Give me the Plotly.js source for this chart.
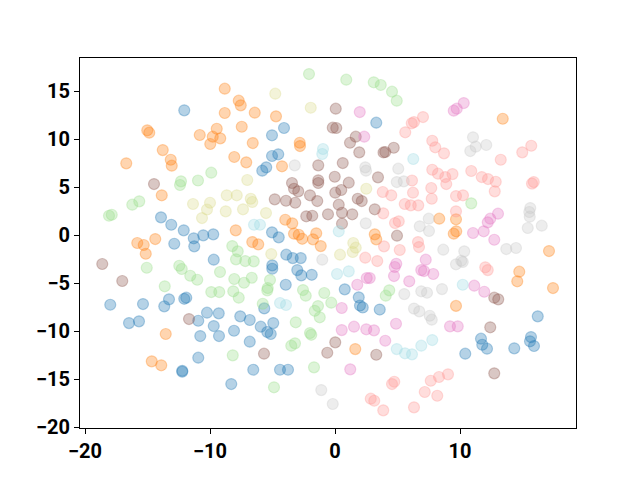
<!DOCTYPE html>
<html>
<head>
<meta charset="utf-8">
<script src="https://cdn.plot.ly/plotly-3.0.1.min.js"></script>
<style>html,body{margin:0;padding:0;background:#fff;}#chart{width:640px;height:480px;}</style>
</head>
<body>
<div id="chart"></div>
<script>
// Class 0 (blue)
const blueX = [-12.06,-4.08,-5.04,-5.04,-4.54,-5.50,-5.82,3.30,-13.92,-13.10,-12.10,-11.30,-11.26,-10.54,-12.86,-17.98,-15.36,-13.28,-12.06,-11.90,-13.66,-16.48,-15.68,-10.94,-10.78,-10.24,-10.94,-12.22,-12.22,-5.04,-4.50,-9.74,-3.90,-3.38,-2.74,-9.70,-5.02,-5.02,-3.02,-2.70,-1.86,-3.94,-9.30,-7.58,-6.82,-5.66,-9.70,-8.08,-9.28,-5.94,-5.42,-5.14,-4.94,-6.82,-6.54,-4.40,-3.76,-8.30,0.78,1.90,2.00,2.22,3.58,16.22,11.68,11.78,12.16,14.34,15.68,15.60,15.92,10.42];
const blueY = [12.99,11.15,10.39,8.23,8.41,7.05,6.70,11.70,1.84,1.07,0.49,-0.34,-1.18,-0.03,-0.91,-7.26,-7.19,-6.70,-6.64,-6.53,-7.43,-9.17,-8.99,-8.93,-10.52,-8.09,-12.78,-14.14,-14.24,0.28,-0.24,0.07,-2.05,-2.40,-2.40,-2.57,-3.16,-3.51,-3.65,-4.20,-4.14,-5.18,-8.16,-8.47,-8.85,-7.64,-9.48,-9.97,-10.52,-9.55,-10.10,-10.31,-9.17,-11.11,-14.03,-14.03,-14.03,-15.52,-5.66,-6.49,-7.34,-7.55,-7.76,-8.47,-10.80,-11.43,-11.84,-11.80,-10.63,-11.07,-11.56,-12.36];

// Class 1 (orange)
const orangeX = [-15.02,-14.86,-10.82,-13.78,-16.70,-13.14,-13.06,-8.82,-7.70,-7.54,-8.82,-6.42,-4.72,-9.46,-7.46,-9.78,-9.18,-9.98,-6.58,-2.82,-2.80,-8.06,-7.10,-4.24,-13.86,-14.38,-15.82,-15.30,-15.14,-13.54,-14.66,-13.90,-3.98,-3.42,-7.94,-3.28,-2.90,-2.62,-1.50,-1.76,-1.14,-6.62,-6.14,13.42,8.34,9.50,9.70,3.18,3.30,9.68,17.12,14.74,14.58,17.44,9.68,1.62];
const orangeY = [10.91,10.66,10.42,8.85,7.47,7.84,7.22,15.24,13.99,13.51,12.71,12.74,12.36,11.07,11.28,10.24,10.07,9.48,9.58,9.61,9.27,8.13,7.57,7.16,4.14,-0.42,-0.83,-1.04,-1.95,-10.31,-13.16,-13.57,1.59,1.22,0.49,0.14,0.03,-0.39,0.18,-0.45,-1.15,-0.73,-0.97,12.11,1.70,0.14,0.39,0.07,-0.45,1.64,-1.67,-3.82,-4.82,-5.52,-7.38,-11.88];

// Class 2 (light green)
const greenX = [-12.32,-12.40,-10.96,-2.08,-9.90,-16.22,-15.66,-18.08,-17.86,-15.06,-12.46,-12.26,-11.58,-11.02,-13.62,0.90,3.10,3.66,4.56,4.94,-8.22,-7.78,-7.92,-7.18,-6.50,-9.20,-8.06,-7.28,-6.66,-5.20,-5.38,-5.42,-9.90,-9.26,-8.14,-7.70,-2.56,-2.34,-0.86,-5.78,-1.36,-1.62,-1.22,-3.14,-2.00,-1.90,-3.50,-3.20,-8.18,-1.68,-4.88,4.34,4.06,-0.30,10.90];
const greenY = [5.59,5.21,5.68,16.77,6.49,3.16,3.51,2.01,2.11,-3.41,-3.20,-3.54,-4.24,-4.66,-5.34,16.18,15.91,15.63,14.93,13.99,-1.15,-1.70,-2.53,-2.71,-2.74,-3.85,-4.58,-4.97,-4.45,-4.69,-5.52,-5.76,-5.94,-5.94,-5.86,-6.53,-5.73,-6.32,-6.04,-7.16,-7.40,-7.89,-8.57,-9.09,-10.21,-10.39,-11.53,-11.28,-12.53,-13.78,-15.86,-5.76,-6.32,-7.05,3.30];

// Class 3 (light red)
const redX = [7.04,6.14,6.32,5.62,7.78,8.02,8.72,7.78,8.24,8.82,9.40,6.16,8.90,15.70,14.98,13.26,10.90,11.74,12.24,12.86,15.90,15.76,3.82,4.50,6.24,7.70,7.74,5.58,6.06,6.66,3.86,4.80,5.10,3.92,5.18,6.64,6.72,2.42,3.38,9.68,10.24,12.78,9.68,12.02,12.22,4.56,4.74,7.66,8.32,9.04,7.18,8.18,2.86,3.14,3.86,6.32];
const redY = [12.29,11.64,11.77,10.70,9.82,9.14,8.51,6.80,6.39,6.04,6.35,5.68,5.31,9.30,8.61,7.84,6.67,6.04,5.83,5.55,5.52,5.36,4.48,4.14,4.41,4.90,3.78,3.23,3.09,3.09,2.26,1.25,1.43,-1.18,-1.56,-0.73,-1.25,-2.36,-2.71,4.06,4.14,4.55,2.47,-3.36,-3.65,-15.52,-15.28,-15.18,-14.79,-14.51,-16.35,-16.74,-17.05,-17.26,-18.26,-17.95];

// Class 4 (brown)
const brownX = [-14.48,-1.34,-3.44,-1.34,-1.34,-0.18,0.10,0.06,1.66,1.20,1.94,4.02,3.88,4.70,0.62,-0.02,3.44,1.10,-18.62,-17.02,-3.28,-2.94,-4.82,-3.92,-3.18,-2.00,-1.42,-2.30,-1.82,-0.56,-11.68,0.02,0.50,1.82,2.14,0.30,3.18,0.56,1.38,0.56,4.96,-5.68,-0.62,0.02,3.30,12.74,13.06,12.42,12.74];
const brownY = [5.31,7.26,5.42,5.70,5.42,11.18,11.15,13.16,10.24,9.61,8.61,8.65,8.60,9.09,7.50,6.07,6.01,5.45,-3.02,-4.79,4.82,4.55,3.72,3.57,3.36,4.14,3.54,1.95,2.01,2.16,-8.75,4.41,4.69,3.78,3.54,3.16,2.68,2.32,2.16,1.18,-0.07,-12.36,-12.26,-11.18,-12.47,-6.53,-6.70,-9.61,-14.41];

// Class 5 (pink)
const pinkX = [1.98,2.34,10.30,9.74,9.50,7.26,4.90,4.78,6.90,7.12,7.86,4.72,2.78,2.54,1.78,5.94,0.54,9.20,9.82,0.54,1.52,2.50,3.12,4.88,4.02,1.22,13.04,12.42,12.22,11.04,11.90,12.74,11.14,11.94];
const pinkY = [12.81,10.24,13.75,13.16,12.95,-2.57,-2.99,-3.33,-3.65,-3.75,-4.06,-4.27,-4.48,-4.48,-5.18,-4.82,-7.60,-9.51,-9.51,-9.90,-9.55,-9.82,-9.93,-9.24,-11.01,-13.99,2.22,1.70,1.32,0.21,0.39,-0.49,-5.28,-5.91];

// Class 6 (light gray)
const grayX = [-3.22,2.42,2.48,5.06,4.94,5.50,11.04,11.26,10.82,12.10,-1.02,-1.10,-0.18,7.50,2.46,6.78,7.52,8.66,5.54,6.90,7.36,8.56,6.32,6.74,7.58,7.74,15.62,15.54,15.58,15.42,16.54,13.70,14.48,10.34,10.10,9.68,10.22];
const grayY = [7.26,7.05,6.70,6.91,5.52,5.59,10.18,9.20,8.75,9.38,-2.57,-16.15,-17.60,1.70,1.22,0.91,0.42,-1.53,-6.15,-5.86,-6.01,-5.63,-7.66,-7.95,-8.41,-8.82,2.81,2.40,1.91,0.73,0.97,-1.46,-1.35,-1.70,-2.68,-3.05,-2.81];

// Class 7 (light olive)
const oliveX = [-4.78,-1.94,-11.36,-10.64,-10.24,-10.00,-7.02,-8.66,-7.86,-6.74,-6.62,-8.74,-7.36,-5.52,-5.10,2.50,1.46,1.66,1.42,0.40];
const oliveY = [14.72,13.26,3.23,1.77,2.66,3.36,5.73,4.14,4.14,3.78,3.44,2.47,2.68,2.29,-1.98,4.82,-0.83,-1.32,-1.77,-2.05];

// Class 8 (light cyan)
const cyanX = [-0.96,-1.02,6.26,-6.48,-6.00,-4.40,-3.92,0.30,0.16,1.10,10.22,4.94,5.60,6.16,6.90,7.78];
const cyanY = [8.96,8.44,7.92,1.07,1.07,-7.08,-7.29,0.39,-4.06,-3.78,-5.18,-11.88,-12.32,-12.43,-11.53,-10.94];

const groups = [
  {x: blueX, y: blueY, c: [31,119,180]},
  {x: orangeX, y: orangeY, c: [255,127,14]},
  {x: greenX, y: greenY, c: [152,223,138]},
  {x: redX, y: redY, c: [255,152,150]},
  {x: brownX, y: brownY, c: [140,86,75]},
  {x: pinkX, y: pinkY, c: [227,119,194]},
  {x: grayX, y: grayY, c: [199,199,199]},
  {x: oliveX, y: oliveY, c: [219,219,141]},
  {x: cyanX, y: cyanY, c: [158,218,229]}
];

const alpha = 0.33;
const traces = groups.map(g => ({
  type: 'scatter', mode: 'markers', x: g.x, y: g.y, showlegend: false, hoverinfo: 'skip',
  marker: {
    size: 11,
    color: `rgba(${g.c[0]},${g.c[1]},${g.c[2]},${alpha})`,
    line: {width: 1.2, color: `rgba(${g.c[0]},${g.c[1]},${g.c[2]},${alpha})`}
  }
}));

const axisCommon = {
  showgrid: false, zeroline: false, showline: true, mirror: true,
  linecolor: '#000', linewidth: 1, ticks: 'outside', ticklen: 5, tickwidth: 1, tickcolor: '#000',
  tickfont: {family: 'Roboto, DejaVu Sans, sans-serif', size: 20, color: '#000', weight: 'bold'}
};

const layout = {
  width: 640, height: 480,
  margin: {l: 80, r: 64, t: 58, b: 52},
  paper_bgcolor: '#fff', plot_bgcolor: '#fff',
  xaxis: Object.assign({}, axisCommon, {range: [-20.4, 19.28], tickvals: [-20, -10, 0, 10]}),
  yaxis: Object.assign({}, axisCommon, {range: [-20.1, 18.44], tickvals: [-20, -15, -10, -5, 0, 5, 10, 15]})
};

Plotly.newPlot('chart', traces, layout, {staticPlot: true, displayModeBar: false});
</script>
</body>
</html>
